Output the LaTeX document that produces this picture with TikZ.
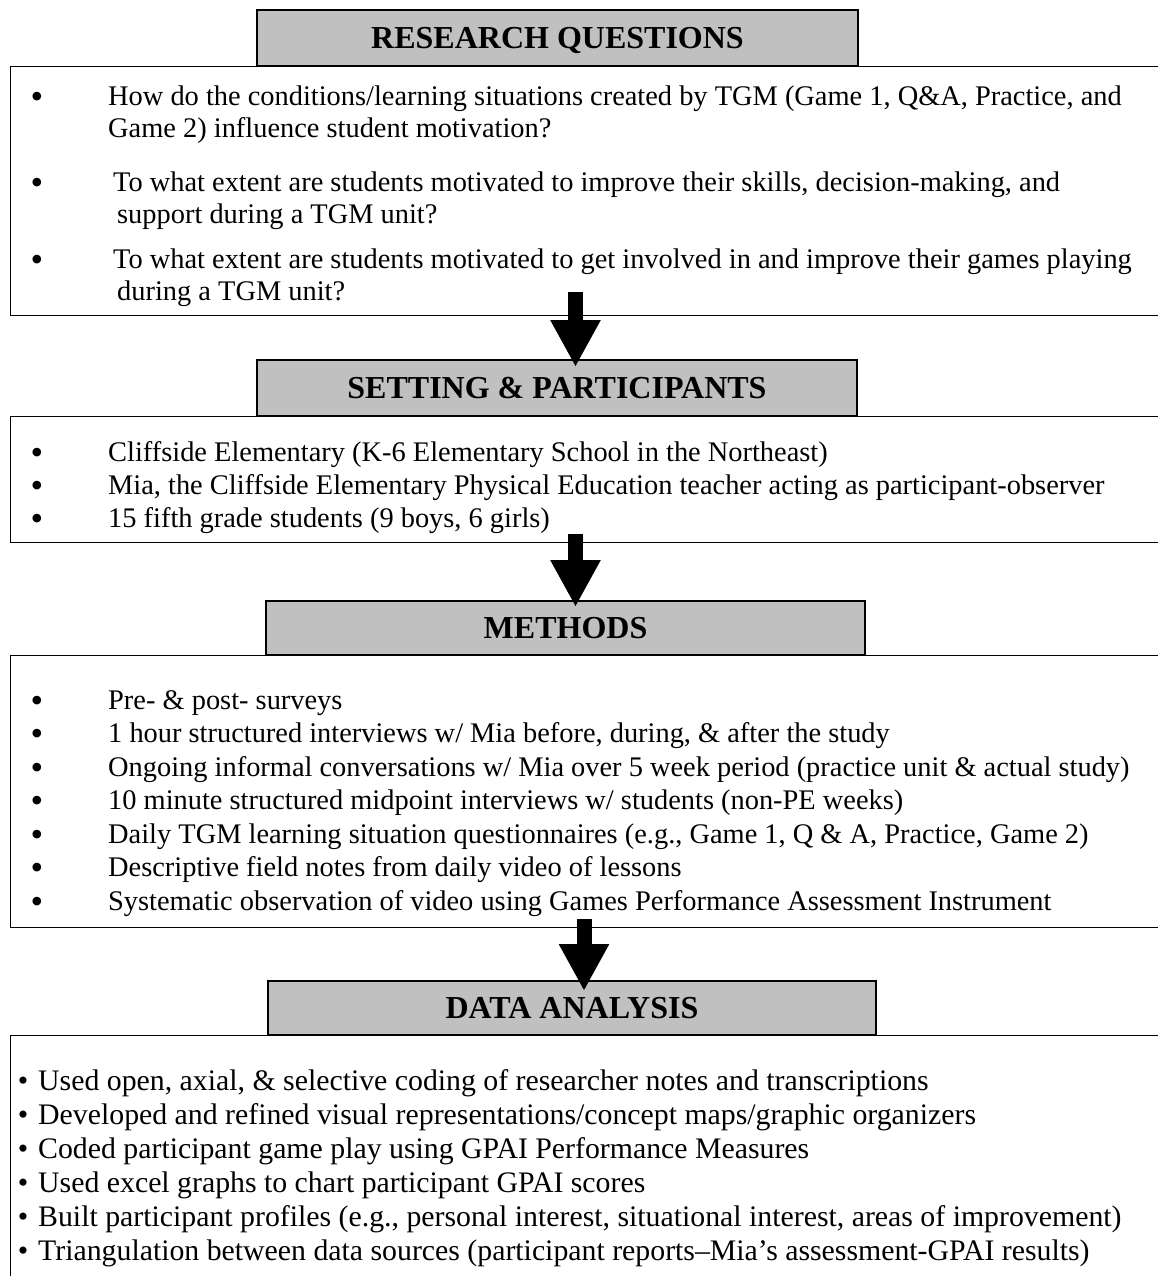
\documentclass[tikz,border=0pt]{standalone}
\usepackage{fontspec}
\setmainfont{Liberation Serif}
\usetikzlibrary{arrows.meta}
\definecolor{hdrgray}{HTML}{C0C0C0}
\begin{document}
\begin{tikzpicture}[x=1pt,y=-1pt,
  hdr/.style={draw=black, line width=2.5pt, fill=hdrgray, inner sep=0pt,
    font=\fontsize{32}{38}\selectfont\bfseries, text height=21.2pt, text depth=0pt},
  cbox/.style={draw=black, line width=1.3pt, fill=white, inner sep=0pt, anchor=north west},
  txt/.style={anchor=base west, inner sep=0pt, font=\fontsize{28.4}{33}\selectfont},
  dtxt/.style={anchor=base west, inner sep=0pt, font=\fontsize{29.8}{34}\selectfont},
  bul/.style={anchor=base, inner sep=0pt, font=\fontsize{36}{36}\selectfont},
  sbul/.style={anchor=base, inner sep=0pt, font=\fontsize{29.8}{34}\selectfont},
  bigarrow/.style={line width=15pt, -{Triangle[width=47pt,length=47pt]}}
]
\useasboundingbox (0,0) rectangle (1157,1276);

% content boxes
\node[cbox, minimum width=1170pt, minimum height=249pt] (b1) at (10,66) {};
\node[cbox, minimum width=1170pt, minimum height=126pt] (b2) at (10,416) {};
\node[cbox, minimum width=1170pt, minimum height=272pt] (b3) at (10,655) {};
\node[cbox, minimum width=1170pt, minimum height=300pt] (b4) at (10,1035) {};

% headers
\node[hdr, minimum width=601pt, minimum height=56pt] (h1) at (557.5,38) {RESEARCH QUESTIONS};
\node[hdr, minimum width=600pt, minimum height=56pt] (h2) at (557,388) {SETTING \& PARTICIPANTS};
\node[hdr, minimum width=599pt, minimum height=54pt] (h3) at (565.5,628) {METHODS};
\node[hdr, minimum width=608pt, minimum height=54pt] (h4) at (572,1008) {DATA ANALYSIS};

% box 1 text
\node[bul] (q1b) at (37,109) {\textbullet};
\node[txt] (q1a) at (108,106) {How do the conditions/learning situations created by TGM (Game 1, Q\&A, Practice, and};
\node[txt] (q1c) at (108,138) {Game 2) influence student motivation?};
\node[bul] (q2b) at (37,194) {\textbullet};
\node[txt] (q2a) at (113,191) {To what extent are students motivated to improve their skills, decision-making, and};
\node[txt] (q2c) at (117,223) {support during a TGM unit?};
\node[bul] (q3b) at (37,271) {\textbullet};
\node[txt] (q3a) at (113,268) {To what extent are students motivated to get involved in and improve their games playing};
\node[txt] (q3c) at (117,300) {during a TGM unit?};

% box 2 text
\node[bul] (s1b) at (37,464) {\textbullet};
\node[txt] (s1) at (108,461) {Cliffside Elementary (K-6 Elementary School in the Northeast)};
\node[bul] (s2b) at (37,497) {\textbullet};
\node[txt] (s2) at (108,494) {Mia, the Cliffside Elementary Physical Education teacher acting as participant-observer};
\node[bul] (s3b) at (37,530) {\textbullet};
\node[txt] (s3) at (108,527) {15 fifth grade students (9 boys, 6 girls)};

% box 3 text
\node[bul] (m1b) at (37,712) {\textbullet};
\node[txt] (m1) at (108,709) {Pre- \& post- surveys};
\node[bul] (m2b) at (37,745.5) {\textbullet};
\node[txt] (m2) at (108,742.5) {1 hour structured interviews w/ Mia before, during, \& after the study};
\node[bul] (m3b) at (37,779) {\textbullet};
\node[txt] (m3) at (108,776) {Ongoing informal conversations w/ Mia over 5 week period (practice unit \& actual study)};
\node[bul] (m4b) at (37,812.5) {\textbullet};
\node[txt] (m4) at (108,809.5) {10 minute structured midpoint interviews w/ students (non-PE weeks)};
\node[bul] (m5b) at (37,846) {\textbullet};
\node[txt] (m5) at (108,843) {Daily TGM learning situation questionnaires (e.g., Game 1, Q \& A, Practice, Game 2)};
\node[bul] (m6b) at (37,879.5) {\textbullet};
\node[txt] (m6) at (108,876.5) {Descriptive field notes from daily video of lessons};
\node[bul] (m7b) at (37,913) {\textbullet};
\node[txt] (m7) at (108,910) {Systematic observation of video using Games Performance Assessment Instrument};

% box 4 text
\node[sbul] (d1b) at (23,1090) {\textbullet};
\node[dtxt] (d1) at (38,1090) {Used open, axial, \& selective coding of researcher notes and transcriptions};
\node[sbul] (d2b) at (23,1124) {\textbullet};
\node[dtxt] (d2) at (38,1124) {Developed and refined visual representations/concept maps/graphic organizers};
\node[sbul] (d3b) at (23,1158) {\textbullet};
\node[dtxt] (d3) at (38,1158) {Coded participant game play using GPAI Performance Measures};
\node[sbul] (d4b) at (23,1192) {\textbullet};
\node[dtxt] (d4) at (38,1192) {Used excel graphs to chart participant GPAI scores};
\node[sbul] (d5b) at (23,1226) {\textbullet};
\node[dtxt] (d5) at (38,1226) {Built participant profiles (e.g., personal interest, situational interest, areas of improvement)};
\node[sbul] (d6b) at (23,1260) {\textbullet};
\node[dtxt] (d6) at (38,1260) {Triangulation between data sources (participant reports–Mia’s assessment-GPAI results)};

% arrows
\coordinate (a1s) at (575.5,292);
\coordinate (a1e) at (575.5,367);
\coordinate (a2s) at (575.5,534);
\coordinate (a2e) at (575.5,607);
\coordinate (a3s) at (584,919);
\coordinate (a3e) at (584,991);
\draw[bigarrow] (a1s) -- (a1e);
\draw[bigarrow] (a2s) -- (a2e);
\draw[bigarrow] (a3s) -- (a3e);
\end{tikzpicture}
\end{document}
